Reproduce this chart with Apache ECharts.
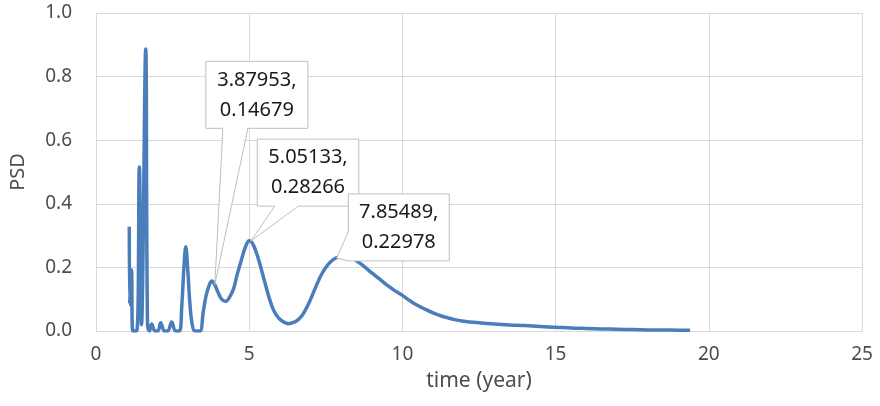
<!DOCTYPE html>
<html>
<head>
<meta charset="utf-8">
<script src="https://cdn.jsdelivr.net/npm/echarts@6/dist/echarts.min.js"></script>
<style>
html,body{margin:0;padding:0;background:#fff;}
#c{width:880px;height:406px;}
</style>
</head>
<body>
<div id="c"></div>
<script>
// ---- data ----
const timeYears = [1.087,1.097,1.159,1.198,1.328,1.413,1.485,1.622,1.681,1.746,1.818,1.926,2.02,2.112,2.236,2.34,2.471,2.595,2.72,2.80,2.87,2.93,2.99,3.07,3.15,3.23,3.39,3.5,3.59,3.7,3.78,3.88,3.99,4.1,4.24,4.35,4.48,4.6,4.75,4.88,5.0,5.1,5.24,5.35,5.52,5.65,5.79,5.95,6.1,6.28,6.45,6.6,6.75,6.9,7.05,7.2,7.35,7.5,7.65,7.8,8.0,8.2,8.4,8.6,8.8,9.0,9.25,9.5,9.75,10.0,10.25,10.5,10.75,11.0,11.25,11.5,11.75,12.0,12.5,13.0,13.5,14.0,14.5,15.0,15.5,16.0,16.5,17.0,17.5,18.0,18.5,19.0,19.39];
const psdValues = [0.328,0.083,0.192,0.0,0.0,0.516,0.02,0.887,0.02,0.0,0.022,0.0,0.0,0.026,0.0,0.0,0.028,0.0,0.0,0.08,0.2,0.265,0.2,0.08,0.015,0.0,0.0,0.06,0.11,0.145,0.157,0.145,0.12,0.1,0.093,0.105,0.13,0.175,0.225,0.265,0.284,0.277,0.245,0.21,0.15,0.105,0.067,0.042,0.03,0.023,0.027,0.036,0.052,0.078,0.11,0.145,0.176,0.2,0.217,0.228,0.234,0.234,0.227,0.214,0.199,0.183,0.164,0.144,0.127,0.112,0.095,0.08,0.068,0.057,0.048,0.041,0.035,0.031,0.026,0.022,0.019,0.017,0.014,0.012,0.0095,0.008,0.0065,0.0055,0.0045,0.0035,0.003,0.0025,0.002];
const calloutX = [3.87953, 5.05133, 7.85489];
const calloutY = [0.14679, 0.28266, 0.22978];
const xTicks = [0, 5, 10, 15, 20, 25];
const yTicks = [0.0, 0.2, 0.4, 0.6, 0.8, 1.0];

// ---- layout of callout boxes (offsets from the anchor pixel) ----
const calloutLayout = [
  {L:-9, T:-223, R:93, B:-156, tail:'bottom', t1:8, t2:33},
  {L:6.5, T:-102, R:108, B:-35, tail:'bottom', t1:24, t2:47.5},
  {L:11.6, T:-64, R:112.6, B:3, tail:'left', t1:-26, t2:3}
];

const seriesData = timeYears.map((t, i) => [t, psdValues[i]]);
const FONT = '"Noto Sans", "Open Sans", sans-serif';

const chart = echarts.init(document.getElementById('c'), null, {renderer: 'canvas'});
const option = {
  animation: false,
  backgroundColor: '#fff',
  grid: {left: 96, right: 18, top: 13, bottom: 75, containLabel: false},
  xAxis: {
    type: 'value', min: xTicks[0], max: xTicks[xTicks.length - 1], interval: xTicks[1] - xTicks[0],
    name: 'time (year)', nameLocation: 'middle', nameGap: 40,
    nameTextStyle: {fontFamily: FONT, fontSize: 21, color: '#4d4d4d'},
    axisLine: {show: true, lineStyle: {color: '#d9d9d9', width: 1}},
    axisTick: {show: false},
    axisLabel: {fontFamily: FONT, fontSize: 19, color: '#4d4d4d', margin: 14},
    splitLine: {show: true, lineStyle: {color: '#d9d9d9', width: 1}}
  },
  yAxis: {
    type: 'value', min: yTicks[0], max: yTicks[yTicks.length - 1], interval: yTicks[1] - yTicks[0],
    name: 'PSD', nameLocation: 'middle', nameGap: 68,
    nameTextStyle: {fontFamily: FONT, fontSize: 20, color: '#4d4d4d'},
    axisLine: {show: true, lineStyle: {color: '#d9d9d9', width: 1}},
    axisTick: {show: false},
    axisLabel: {fontFamily: FONT, fontSize: 19, color: '#4d4d4d', margin: 24, formatter: v => v.toFixed(1)},
    splitLine: {show: true, lineStyle: {color: '#d9d9d9', width: 1}}
  },
  series: [{
    type: 'line', data: seriesData, showSymbol: false, symbol: 'none',
    smooth: 0.4,
    lineStyle: {color: '#4a7ebb', width: 3.5},
    z: 2
  }]
};
chart.setOption(option);

function buildCallouts() {
  const els = [];
  calloutX.forEach((x, i) => {
    const y = calloutY[i];
    const p = chart.convertToPixel({gridIndex: 0}, [x, y]);
    const lay = calloutLayout[i];
    const L = p[0] + lay.L, R = p[0] + lay.R, T = p[1] + lay.T, B = p[1] + lay.B;
    let pts;
    if (lay.tail === 'bottom') {
      pts = [[L, T], [R, T], [R, B], [p[0] + lay.t2, B], [p[0], p[1]], [p[0] + lay.t1, B], [L, B]];
    } else {
      pts = [[L, T], [R, T], [R, B], [L, B], [p[0], p[1]], [L, p[1] + lay.t1]];
    }
    els.push({
      type: 'polygon', z: 100,
      shape: {points: pts},
      style: {fill: '#ffffff', stroke: '#bfbfbf', lineWidth: 1}
    });
    els.push({
      type: 'text', z: 101,
      x: (L + R) / 2, y: (T + B) / 2,
      style: {
        text: x.toFixed(5) + ',\n' + y.toFixed(5),
        font: '20px ' + FONT,
        fill: '#1a1a1a',
        align: 'center', verticalAlign: 'middle',
        lineHeight: 30
      }
    });
  });
  chart.setOption({graphic: {elements: els}});
}
buildCallouts();
</script>
</body>
</html>
